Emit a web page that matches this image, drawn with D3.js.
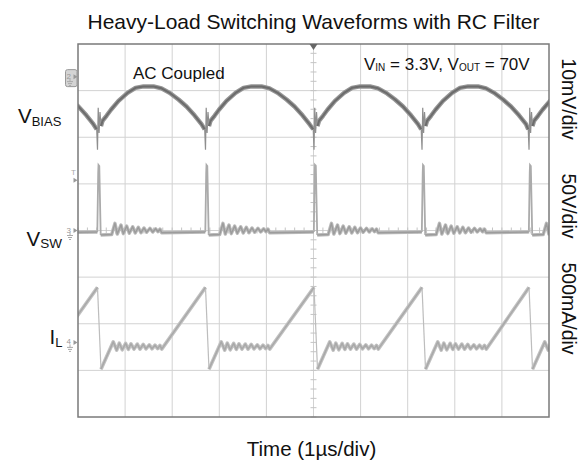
<!DOCTYPE html>
<html>
<head>
<meta charset="utf-8">
<script src="https://cdn.jsdelivr.net/npm/d3@7"></script>
<style>
  body { margin: 0; background: #fff; }
  svg { display: block; font-family: "Liberation Sans", Arial, Helvetica, sans-serif; }
</style>
</head>
<body>
<svg id="chart" width="581" height="465"></svg>
<script>
// Switching instants (µs). The first lies left of the screen and supplies the partial cycle at the left edge.
const switchTimes = [-1.86, 0.435, 2.728, 5.032, 7.325, 9.597];

// One switching cycle of each trace: [time after the switch edge (µs), value]. null breaks the line.
// V_BIAS, mV (AC coupled)
const vbiasCycle = [
  [-0.038, -11.3], [0.008, null], [0.053, -10.6], [0.085, -9.5], [0.170, -8.4], [0.265, -7.1],
  [0.425, -5.2], [0.616, -3.5], [0.786, -2.4], [0.955, -2.1], [1.168, -2.1], [1.338, -2.5],
  [1.529, -3.6], [1.699, -4.9], [1.868, -6.4], [2.038, -8.3], [2.187, -10.2]
];
const vbiasEdge = [
  [-0.038, -11.3], [-0.021, -15.7], [-0.006, -6.7], [0.013, -12.1], [0.032, -7.6], [0.053, -10.6]
];
// V_SW, V
const vswCycle = [
  [-0.025, -1.6], [0.011, null], [0.047, -4.8], [0.280, -4.3], [0.350, 7.7], [0.400, -3.8],
  [0.478, 5.9], [0.527, -3.4], [0.599, 4.8], [0.654, -3.0], [0.726, 4.1], [0.781, -2.7],
  [0.845, 3.4], [0.902, -2.4], [0.966, 2.7], [1.023, -1.9], [1.093, 2.4], [1.151, -1.6],
  [1.214, 1.9], [1.263, -1.3], [1.306, 1.6], [1.342, -2.4]
];
const vswEdge = [[-0.025, -1.6], [-0.006, 62], [0.0, 70.3], [0.017, 69.2], [0.047, -4.8]];
// I_L, mA
const ilCycle = [
  [-0.021, 590], [0.016, null], [0.053, -287], [0.314, 6], [0.386, -83], [0.442, -8],
  [0.505, -79], [0.577, -11], [0.633, -75], [0.690, -15], [0.754, -72], [0.824, -18],
  [0.881, -72], [0.951, -21], [1.008, -69], [1.079, -26], [1.136, -69], [1.200, -29],
  [1.257, -67], [1.306, -32], [1.342, -72]
];
const ilEdge = [[-0.021, 590], [0.053, -287]];

// Channel settings: screen offset (div) and sensitivity (units/div)
const channelIds   = ["2", "3", "4"];
const channelPos   = [3.3, 0, -2.4];
const channelScale = [10, 50, 500];
const scaleLabels  = ["10mV/div", "50V/div", "500mA/div"];
const triggerLevel = 1.08;   // div

const svg = d3.select("#chart");
const x = d3.scaleLinear().domain([0, 10]).range([78, 549]);
const y = d3.scaleLinear().domain([-4, 4]).range([417, 44]);

// Title
svg.append("text").attr("x", 313.5).attr("y", 29).attr("text-anchor", "middle")
  .attr("font-size", 21).attr("fill", "#111")
  .text("Heavy-Load Switching Waveforms with RC Filter");

// Graticule
const grid = svg.append("g");
grid.selectAll(".vg").data(d3.range(1, 10)).join("line")
  .attr("x1", d => x(d)).attr("x2", d => x(d)).attr("y1", y(4)).attr("y2", y(-4))
  .attr("stroke", "#d2d2d2").attr("stroke-width", 1);
grid.selectAll(".hg").data(d3.range(-3, 4)).join("line")
  .attr("x1", x(0)).attr("x2", x(10)).attr("y1", d => y(d)).attr("y2", d => y(d))
  .attr("stroke", "#d2d2d2").attr("stroke-width", 1);
// minor ticks on the centre lines
grid.selectAll(".tx").data(d3.range(0, 50).map(i => i * 0.2)).join("line")
  .attr("x1", d => x(d)).attr("x2", d => x(d)).attr("y1", y(0) - 3).attr("y2", y(0) + 3)
  .attr("stroke", "#c4c4c4");
grid.selectAll(".ty").data(d3.range(0, 40).map(i => -4 + i * 0.2)).join("line")
  .attr("x1", x(5) - 3).attr("x2", x(5) + 3).attr("y1", d => y(d)).attr("y2", d => y(d))
  .attr("stroke", "#c4c4c4");

// Traces
svg.append("clipPath").attr("id", "screen").append("rect")
  .attr("x", x(0)).attr("y", y(4)).attr("width", x(10) - x(0)).attr("height", y(-4) - y(4));
const plot = svg.append("g").attr("clip-path", "url(#screen)");

function toScreen(ch) {
  return d3.line()
    .defined(d => d[1] !== null)
    .x(d => x(d[0]))
    .y(d => y(channelPos[ch] + d[1] / channelScale[ch]));
}
function fullTrace(cycle) {
  const pts = [];
  switchTimes.forEach(ts => cycle.forEach(p => pts.push([ts + p[0], p[1]])));
  return pts;
}
function drawTrace(ch, cycle, edge, halo, core, haloW, coreW, edgeCol, edgeW) {
  const line = toScreen(ch);
  switchTimes.forEach(ts => {
    plot.append("path").attr("d", line(edge.map(p => [ts + p[0], p[1]])))
      .attr("fill", "none").attr("stroke", edgeCol).attr("stroke-width", edgeW);
  });
  const pts = fullTrace(cycle);
  plot.append("path").attr("d", line(pts)).attr("fill", "none")
    .attr("stroke", halo).attr("stroke-width", haloW).attr("stroke-linejoin", "round");
  plot.append("path").attr("d", line(pts)).attr("fill", "none")
    .attr("stroke", core).attr("stroke-width", coreW).attr("stroke-linejoin", "round");
}
drawTrace(2, ilCycle, ilEdge, "#c2c2c2", "#a9a9a9", 3.6, 1.5, "#bdbdbd", 1.2);
drawTrace(1, vswCycle, vswEdge, "#bababa", "#9c9c9c", 3.4, 1.4, "#ababab", 1.8);
drawTrace(0, vbiasCycle, vbiasEdge, "#959595", "#6c6c6c", 4.4, 2.0, "#8e8e8e", 1.2);

// Frame
svg.append("rect").attr("x", x(0)).attr("y", y(4))
  .attr("width", x(10) - x(0)).attr("height", y(-4) - y(4))
  .attr("fill", "none").attr("stroke", "#7a7a7a").attr("stroke-width", 1.5);

// Trigger position marker
svg.append("path")
  .attr("d", `M${x(5) - 4},${y(4)} L${x(5) + 4},${y(4)} L${x(5)},${y(4) + 6} Z`)
  .attr("fill", "#666");

// Channel ground markers
function ground(g, cx, top) {
  g.append("line").attr("x1", cx).attr("x2", cx).attr("y1", top).attr("y2", top + 3).attr("stroke", "#aaa");
  [[6, 3], [4, 5], [2, 7]].forEach(([w, dy]) =>
    g.append("line").attr("x1", cx - w / 2).attr("x2", cx + w / 2)
      .attr("y1", top + dy).attr("y2", top + dy).attr("stroke", "#aaa"));
}
const markers = svg.append("g");
channelIds.forEach((id, i) => {
  const my = y(channelPos[i]);
  if (i === 0) {
    markers.append("rect").attr("x", 65.5).attr("y", my - 7).attr("width", 11.5).attr("height", 17)
      .attr("rx", 2).attr("fill", "#d4d4d4").attr("stroke", "#999");
  }
  markers.append("text").attr("x", 66.5).attr("y", my + 2).attr("font-size", 8).attr("fill", "#999").text(id);
  markers.append("path").attr("d", `M${73.5},${my - 2.5} L${77.5},${my} L${73.5},${my + 2.5} Z`).attr("fill", "#999");
  ground(markers, 70, my + 2);
});
const ty = y(triggerLevel);
markers.append("text").attr("x", 71).attr("y", ty - 5).attr("font-size", 8).attr("fill", "#aaa").text("T");
markers.append("path").attr("d", `M${73.5},${ty - 2.5} L${77.5},${ty} L${73.5},${ty + 2.5} Z`).attr("fill", "#999");

// Trace names
const names = svg.append("g").attr("fill", "#111");
const nb = names.append("text").attr("x", 18).attr("y", 123).attr("font-size", 20.5);
nb.append("tspan").text("V");
nb.append("tspan").attr("font-size", 13).attr("dy", 3).text("BIAS");
const ns = names.append("text").attr("x", 26.5).attr("y", 246).attr("font-size", 20.5);
ns.append("tspan").text("V");
ns.append("tspan").attr("font-size", 13.5).attr("dy", 2).text("SW");
const nl = names.append("text").attr("x", 49.5).attr("y", 344).attr("font-size", 20.5);
nl.append("tspan").text("I");
nl.append("tspan").attr("font-size", 13).attr("dy", 3).text("L");

// Annotations
svg.append("text").attr("x", 133).attr("y", 79).attr("font-size", 17).attr("fill", "#111").text("AC Coupled");
const cond = svg.append("text").attr("x", 364).attr("y", 69.5).attr("font-size", 17).attr("fill", "#111");
cond.append("tspan").text("V");
cond.append("tspan").attr("font-size", 10).attr("dy", 1).text("IN");
cond.append("tspan").attr("dy", -1).text(" = 3.3V, V");
cond.append("tspan").attr("font-size", 10).attr("dy", 1).text("OUT");
cond.append("tspan").attr("dy", -1).text(" = 70V");

// Sensitivity labels
const labelY = [99, 206, 308.5];
scaleLabels.forEach((t, i) => {
  svg.append("text").attr("transform", `translate(561.5,${labelY[i]}) rotate(90)`)
    .attr("text-anchor", "middle").attr("font-size", 19.5).attr("fill", "#111").text(t);
});

// Time base
svg.append("text").attr("x", 311.5).attr("y", 456).attr("text-anchor", "middle")
  .attr("font-size", 20.5).attr("fill", "#111").text("Time (1µs/div)");
</script>
</body>
</html>
